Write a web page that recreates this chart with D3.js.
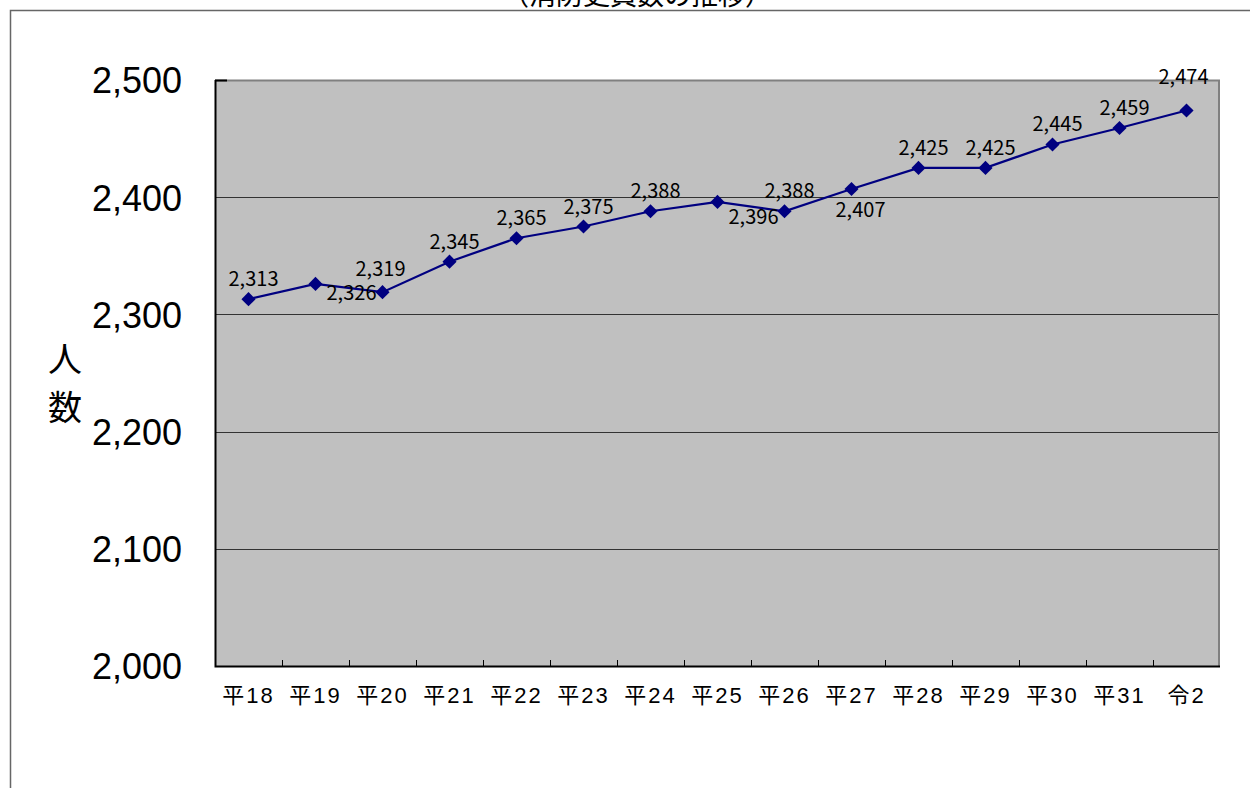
<!doctype html>
<html lang="ja">
<head>
<meta charset="utf-8">
<title>消防吏員数の推移</title>
<style>
  body { margin: 0; background: #fff; }
  svg { display: block; }
  .ytick text { font-family: "Liberation Sans", Arial, sans-serif; font-size: 36px; }
  .xtick text { font-family: "Liberation Sans", "Noto Sans CJK JP", sans-serif; font-size: 22px; letter-spacing: 2px; }
  .lbl { font-family: "Noto Sans CJK JP", sans-serif; font-size: 20px; }
</style>
</head>
<body>
<svg width="1250" height="788"></svg>
<script src="https://d3js.org/d3.v7.min.js"></script>
<script>
// data
var years = ["平18", "平19", "平20", "平21", "平22", "平23", "平24", "平25",
             "平26", "平27", "平28", "平29", "平30", "平31", "令2"];
var staff = [2313, 2326, 2319, 2345, 2365, 2375, 2388, 2396,
             2388, 2407, 2425, 2425, 2445, 2459, 2474];
var yTicks = [2000, 2100, 2200, 2300, 2400, 2500];

// label nudges (where the original chart moved its data labels)
var labelNudge = { 1: [36, 9], 2: [-2, -23], 7: [36, 15], 9: [9, 21], 14: [-3, -33] };

var svg = d3.select("svg"),
    margin = {top: 80, right: 30, bottom: 122, left: 215},
    width = 1250 - margin.left - margin.right,
    height = 788 - margin.top - margin.bottom;

// outer frame (only top and left edges are visible)
svg.append("path")
    .attr("d", "M10.5,788V10.5H1250")
    .attr("fill", "none")
    .attr("stroke", "#666")
    .attr("stroke-width", 1.5);

// title, mostly cut off by the top of the picture
svg.append("text")
    .attr("x", 637)
    .attr("y", 5)
    .attr("text-anchor", "middle")
    .style("font-family", "'Noto Sans CJK JP', sans-serif")
    .style("font-size", "27px")
    .text("（消防吏員数の推移）");

var g = svg.append("g").attr("transform", "translate(" + margin.left + "," + margin.top + ")");

var x = d3.scaleBand().domain(years).range([0, width]);
var y = d3.scaleLinear().domain([2000, 2500]).range([height, 0]);

// plot background
g.append("rect")
    .attr("width", width)
    .attr("height", height)
    .attr("fill", "#c0c0c0");

// gridlines
g.append("g")
  .selectAll("line")
  .data(yTicks.slice(1, -1))
  .enter().append("line")
    .attr("x1", 0)
    .attr("x2", width)
    .attr("y1", function(d) { return Math.round(y(d)) + 0.5; })
    .attr("y2", function(d) { return Math.round(y(d)) + 0.5; })
    .attr("stroke", "#333")
    .attr("stroke-width", 1);

// top and right edge in gray
g.append("path")
    .attr("d", "M0," + 0.5 + "H" + (width - 1) + "V" + height)
    .attr("fill", "none")
    .attr("stroke", "#808080")
    .attr("stroke-width", 2);

// left and bottom axis lines
g.append("path")
    .attr("d", "M0.5,0V" + (height + 0.5) + "H" + width)
    .attr("fill", "none")
    .attr("stroke", "#000")
    .attr("stroke-width", 2);

// small tick at the top-left
g.append("line")
    .attr("x1", 0).attr("x2", 12)
    .attr("y1", 0.5).attr("y2", 0.5)
    .attr("stroke", "#000").attr("stroke-width", 2);

// x ticks between categories, pointing up into the plot
g.append("g")
  .selectAll("line")
  .data(years.slice(1))
  .enter().append("line")
    .attr("x1", function(d) { return Math.round(x(d)) + 0.5; })
    .attr("x2", function(d) { return Math.round(x(d)) + 0.5; })
    .attr("y1", height)
    .attr("y2", height - 6)
    .attr("stroke", "#000");

// y axis labels
var yAxis = g.append("g")
    .attr("class", "ytick")
    .call(d3.axisLeft(y).tickValues(yTicks).tickSize(0).tickPadding(33).tickFormat(d3.format(",")));
yAxis.select(".domain").remove();
yAxis.selectAll("text").attr("dy", "0.36em").attr("fill", "#000");

// x axis labels
var xAxis = g.append("g")
    .attr("class", "xtick")
    .attr("transform", "translate(0," + height + ")")
    .call(d3.axisBottom(x).tickSize(0).tickPadding(21));
xAxis.select(".domain").remove();
xAxis.selectAll("text").attr("fill", "#000");

// y axis title, written vertically
svg.append("g")
  .selectAll("text")
  .data(["人", "数"])
  .enter().append("text")
    .attr("x", 65)
    .attr("y", function(d, i) { return 372 + i * 48; })
    .attr("text-anchor", "middle")
    .style("font-family", "'Noto Sans CJK JP', sans-serif")
    .style("font-size", "34px")
    .text(function(d) { return d; });

var pts = years.map(function(d, i) { return {year: d, value: staff[i], i: i}; });

var line = d3.line()
    .x(function(d) { return x(d.year) + x.bandwidth() / 2; })
    .y(function(d) { return y(d.value); });

g.append("path")
    .datum(pts)
    .attr("d", line)
    .attr("fill", "none")
    .attr("stroke", "#000080")
    .attr("stroke-width", 2.2);

g.append("g")
  .selectAll("path")
  .data(pts)
  .enter().append("path")
    .attr("d", d3.symbol(d3.symbolSquare, 100))
    .attr("transform", function(d) {
      return "translate(" + (x(d.year) + x.bandwidth() / 2) + "," + y(d.value) + ") rotate(45)";
    })
    .attr("fill", "#000080");

// data labels
g.append("g")
  .selectAll("text")
  .data(pts)
  .enter().append("text")
    .attr("class", "lbl")
    .attr("text-anchor", "middle")
    .attr("dy", "0.35em")
    .attr("x", function(d) {
      var n = labelNudge[d.i] || [5, -20];
      return x(d.year) + x.bandwidth() / 2 + n[0];
    })
    .attr("y", function(d) {
      var n = labelNudge[d.i] || [5, -20];
      return y(d.value) + n[1];
    })
    .text(function(d) { return d3.format(",")(d.value); });
</script>
</body>
</html>
